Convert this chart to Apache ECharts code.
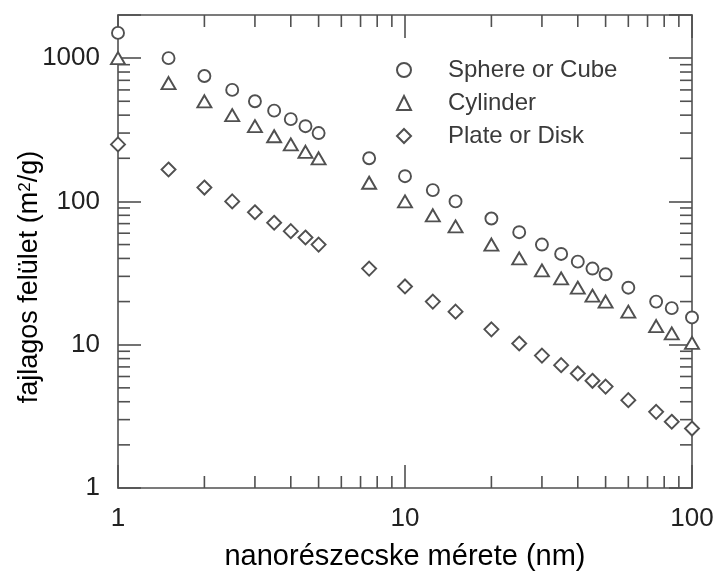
<!DOCTYPE html>
<html>
<head>
<meta charset="utf-8">
<script src="https://cdn.jsdelivr.net/npm/echarts@6/dist/echarts.min.js"></script>
<style>
html,body{margin:0;padding:0;background:#fff;}
#chart{width:717px;height:577px;}
</style>
</head>
<body>
<div id="chart"></div>
<script>
var sizes = [1, 1.5, 2, 2.5, 3, 3.5, 4, 4.5, 5, 7.5, 10, 12.5, 15, 20, 25, 30, 35, 40, 45, 50, 60, 75, 85, 100];
var sphere = [1500, 1000, 750, 600, 500, 430, 375, 335, 300, 200, 150, 120, 100, 76, 61, 50, 43, 38, 34, 31, 25, 20, 18, 15.5];
var cylinder = [1000, 670, 500, 400, 335, 285, 250, 222, 200, 135, 100, 80, 67, 50, 40, 33, 29, 25, 22, 20, 17, 13.5, 12, 10.3];
var plate = [250, 167, 125, 100, 84, 71, 62, 56, 50, 34, 25.5, 20, 17, 12.8, 10.2, 8.4, 7.2, 6.3, 5.6, 5.1, 4.1, 3.4, 2.9, 2.6];
var seriesNames = ['Sphere or Cube', 'Cylinder', 'Plate or Disk'];
var xMinorTicks = [2, 3, 4, 5, 6, 7, 8, 9, 20, 30, 40, 50, 60, 70, 80, 90];
var yMinorTicks = [2, 3, 4, 5, 6, 7, 8, 9, 20, 30, 40, 50, 60, 70, 80, 90, 200, 300, 400, 500, 600, 700, 800, 900];
var xLabels = ['1', '10', '100'];
var yLabels = ['1', '10', '100', '1000'];
var xTitle = 'nanorészecske mérete (nm)';
var yTitleMain = 'fajlagos felület (m';
var yTitleSup = '2';
var yTitleEnd = '/g)';

var X_MIN = 1, X_MAX = 100, Y_MIN = 1, Y_MAX = 2000;
var GREY = '#505050';
var FONT = 'Liberation Sans, Arial, sans-serif';

function pairs(ys) { return sizes.map(function (x, i) { return [x, ys[i]]; }); }
function isPow10(v) { var l = Math.log10(v); return Math.abs(l - Math.round(l)) < 1e-6; }
function labelFmt(list) {
  return function (v) {
    if (!isPow10(v)) return '';
    var s = String(Math.round(v));
    return list.indexOf(s) >= 0 ? s : '';
  };
}

var chart = echarts.init(document.getElementById('chart'));
var markerStyle = { color: '#fff', borderColor: GREY, borderWidth: 1.9, opacity: 1 };
var axisLineStyle = { color: GREY, width: 1.6 };

var baseX = {
  type: 'log', logBase: 10, min: X_MIN, max: X_MAX,
  axisLine: { show: true, onZero: false, lineStyle: axisLineStyle },
  axisTick: { show: true, inside: true, length: 23, lineStyle: { color: GREY, width: 1.6 } },
  splitLine: { show: false }, minorTick: { show: false }, minorSplitLine: { show: false }
};
var baseY = {
  type: 'log', logBase: 10, min: Y_MIN, max: Y_MAX,
  axisLine: { show: true, onZero: false, lineStyle: axisLineStyle },
  axisTick: { show: true, inside: true, length: 23, lineStyle: { color: GREY, width: 1.6 } },
  splitLine: { show: false }, minorTick: { show: false }, minorSplitLine: { show: false }
};

function minorRender(isX) {
  return function (params, api) {
    var v = api.value(isX ? 0 : 1);
    var style = { stroke: GREY, lineWidth: 1.6 };
    if (isX) {
      var b = api.coord([v, Y_MIN]), t = api.coord([v, Y_MAX]);
      return { type: 'group', children: [
        { type: 'line', shape: { x1: b[0], y1: b[1], x2: b[0], y2: b[1] - 12 }, style: style },
        { type: 'line', shape: { x1: t[0], y1: t[1], x2: t[0], y2: t[1] + 12 }, style: style }
      ] };
    } else {
      var l = api.coord([X_MIN, v]), r = api.coord([X_MAX, v]);
      return { type: 'group', children: [
        { type: 'line', shape: { x1: l[0], y1: l[1], x2: l[0] + 12, y2: l[1] }, style: style },
        { type: 'line', shape: { x1: r[0], y1: r[1], x2: r[0] - 12, y2: r[1] }, style: style }
      ] };
    }
  };
}

var option = {
  backgroundColor: '#fff',
  animation: false,
  textStyle: { fontFamily: FONT },
  grid: { left: 118, right: 25, top: 15, bottom: 89, containLabel: false },
  legend: {
    data: seriesNames,
    orient: 'vertical',
    left: 391, top: 53,
    itemWidth: 14, itemHeight: 14, itemGap: 9,
    selectedMode: false,
    textStyle: { fontSize: 24, color: '#3a3a3a', lineHeight: 24, padding: [0, 0, 0, 32], fontFamily: FONT }
  },
  xAxis: [
    Object.assign({}, baseX, {
      position: 'bottom',
      axisLabel: { show: true, margin: 18, fontSize: 26, color: '#222', formatter: labelFmt(xLabels) },
      name: xTitle, nameLocation: 'middle', nameGap: 54,
      nameTextStyle: { fontSize: 29, color: '#000' }
    }),
    Object.assign({}, baseX, { position: 'top', axisLabel: { show: false } })
  ],
  yAxis: [
    Object.assign({}, baseY, {
      position: 'left',
      axisLabel: { show: true, margin: 18, fontSize: 26, color: '#222', formatter: labelFmt(yLabels) }
    }),
    Object.assign({}, baseY, { position: 'right', axisLabel: { show: false } })
  ],
  graphic: [{
    type: 'text',
    x: 30, y: 277,
    rotation: Math.PI / 2,
    style: {
      text: yTitleMain + '{sup|' + yTitleSup + '}' + yTitleEnd,
      fontSize: 27, fill: '#000', fontFamily: FONT,
      align: 'center', verticalAlign: 'middle',
      rich: { sup: { fontSize: 17, verticalAlign: 'top', padding: [0, 0, 10, 0], fill: '#000', fontFamily: FONT } }
    }
  }],
  series: [
    { type: 'custom', name: 'xminor', silent: true, clip: false, z: 1,
      renderItem: minorRender(true), data: xMinorTicks.map(function (v) { return [v, Y_MIN]; }) },
    { type: 'custom', name: 'yminor', silent: true, clip: false, z: 1,
      renderItem: minorRender(false), data: yMinorTicks.map(function (v) { return [X_MIN, v]; }) },
    { type: 'scatter', name: seriesNames[0], symbol: 'circle', symbolSize: 12,
      itemStyle: markerStyle, data: pairs(sphere), clip: false, z: 3 },
    { type: 'scatter', name: seriesNames[1], symbol: 'triangle', symbolSize: [14, 12],
      itemStyle: markerStyle, data: pairs(cylinder), clip: false, z: 3 },
    { type: 'scatter', name: seriesNames[2], symbol: 'diamond', symbolSize: 14,
      itemStyle: markerStyle, data: pairs(plate), clip: false, z: 3 }
  ]
};
chart.setOption(option);
</script>
</body>
</html>
